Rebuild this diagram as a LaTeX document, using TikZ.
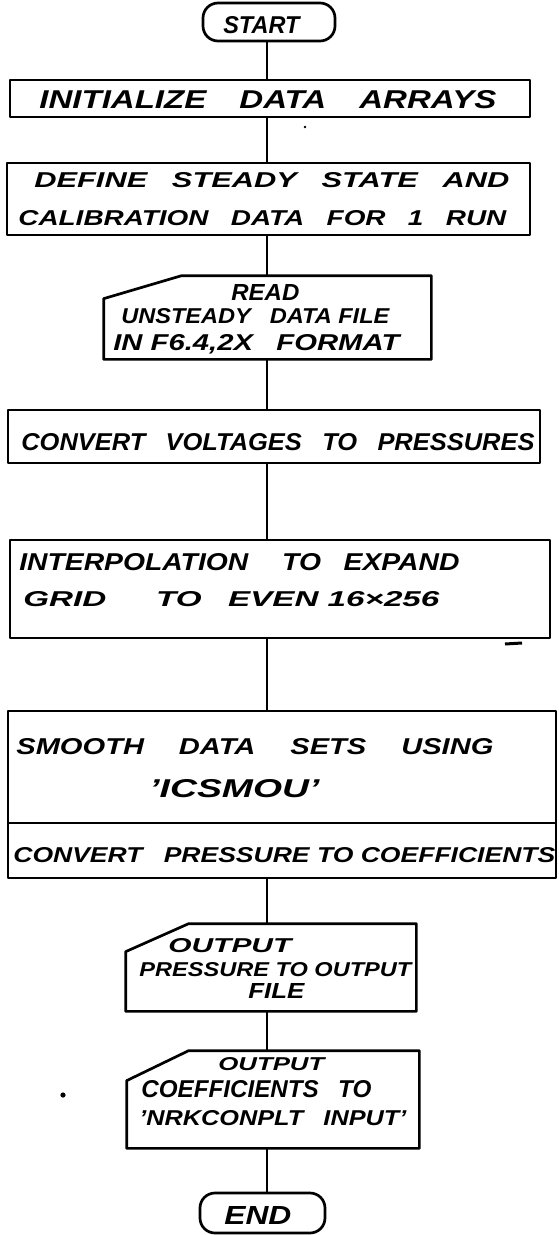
\documentclass[tikz,border=0pt]{standalone}
\usepackage{fontspec}
\setmainfont{Liberation Sans}
\usepackage{graphicx}
\newcommand\handtxt[3]{\resizebox{#1pt}{#2pt}{#3}}
\newcommand\wg{\hspace{0.8em}}
\begin{document}
\begin{tikzpicture}[x=1pt,y=-1pt,
  line width=2.7pt, line join=round,
  box/.style={draw, rectangle, inner sep=0pt, line width=2.7pt},
  term/.style={draw, rectangle, rounded corners=15pt, inner sep=0pt, line width=2.7pt},
  card/.style={rectangle, inner sep=0pt},
  cardline/.style={draw, line width=2.7pt, line join=round},
  txt/.style={inner sep=0pt, anchor=base west, font=\bfseries\itshape},
  conn/.style={line width=2.7pt}]
\useasboundingbox (0,0) rectangle (558,1235);
\coordinate (col) at (267,0);

% ---- shapes ----
\node[term, minimum width=132pt, minimum height=38pt] (start) at (269,22) {};
\node[box, minimum width=520pt, minimum height=37pt] (init) at (270,98.5) {};
\node[box, minimum width=523pt, minimum height=72pt] (define) at (268.5,199) {};
\node[card, minimum width=325pt, minimum height=81pt] (read) at (267.5,317.5) {};
\draw[cardline] ([yshift=-23pt]read.north west) -- ([xshift=78pt]read.north west) -- (read.north east) -- (read.south east) -- (read.south west) -- cycle;
\node[box, minimum width=532pt, minimum height=53pt] (convv) at (274,436.5) {};
\node[box, minimum width=540pt, minimum height=98pt] (interp) at (280,589) {};
\node[box, minimum width=548pt, minimum height=112pt] (smooth) at (282,767) {};
\node[box, minimum width=548pt, minimum height=55pt] (convp) at (282,850.5) {};
\node[card, minimum width=288pt, minimum height=85pt] (out1) at (271,967.5) {};
\draw[cardline] ([yshift=-28pt]out1.north west) -- ([xshift=63pt]out1.north west) -- (out1.north east) -- (out1.south east) -- (out1.south west) -- cycle;
\node[card, minimum width=290pt, minimum height=95pt] (out2) at (273,1099.5) {};
\draw[cardline] ([yshift=-30pt]out2.north west) -- ([xshift=62pt]out2.north west) -- (out2.north east) -- (out2.south east) -- (out2.south west) -- cycle;
\node[term, minimum width=125pt, minimum height=40pt] (end) at (262.5,1213) {};

% ---- connectors ----
\draw[conn] (start.south -| col) -- (init.north -| col);
\draw[conn] (init.south -| col) -- (define.north -| col);
\draw[conn] (define.south -| col) -- (read.north -| col);
\draw[conn] (read.south -| col) -- (convv.north -| col);
\draw[conn] (convv.south -| col) -- (interp.north -| col);
\draw[conn] (interp.south -| col) -- (smooth.north -| col);
\draw[conn] (convp.south -| col) -- (out1.north -| col);
\draw[conn] (out1.south -| col) -- (out2.north -| col);
\draw[conn] (out2.south -| col) -- (end.north -| col);

% ---- texts ----
\node[txt] (tstart) at (222,33) {\handtxt{76}{17}{START}};
\node[txt] (tinit) at (38,108) {\handtxt{457}{18}{INITIALIZE\hspace{1em}DATA\hspace{1em}ARRAYS}};
\node[txt] (tdef1) at (33,187) {\handtxt{475}{15}{DEFINE\wg STEADY\wg STATE\wg AND}};
\node[txt] (tdef2) at (17,225) {\handtxt{488}{15}{CALIBRATION\wg DATA\wg FOR\wg 1\wg RUN}};
\node[txt] (tread1) at (230,300) {\handtxt{68}{16}{READ}};
\node[txt] (tread2) at (120,323) {\handtxt{268}{15}{UNSTEADY\wg DATA FILE}};
\node[txt] (tread3) at (112,350) {\handtxt{286}{16}{IN F6.4,2X\wg FORMAT}};
\node[txt] (tconvv) at (20,450) {\handtxt{513}{17}{CONVERT\wg VOLTAGES\wg TO\wg PRESSURES}};
\node[txt] (tint1) at (18,570) {\handtxt{440}{17}{INTERPOLATION\hspace{1.2em}TO\wg EXPAND}};
\node[txt] (tint2) at (22,606) {\handtxt{416}{15}{GRID\hspace{1.5em}TO\wg EVEN 16×256}};
\node[txt] (tsm1) at (15,754) {\handtxt{477}{16}{SMOOTH\hspace{1.2em}DATA\hspace{1.2em}SETS\hspace{1.2em}USING}};
\node[txt] (tsm2) at (148,797) {\handtxt{170}{18}{'ICSMOU'}};
\node[txt] (tconvp) at (12,862) {\handtxt{542}{15}{CONVERT\wg PRESSURE TO COEFFICIENTS}};
\node[txt] (to1a) at (167,952) {\handtxt{123}{14}{OUTPUT}};
\node[txt] (to1b) at (138,976) {\handtxt{272}{14}{PRESSURE TO OUTPUT}};
\node[txt] (to1c) at (247,998) {\handtxt{56}{15}{FILE}};
\node[txt] (to2a) at (217,1070) {\handtxt{106}{13}{OUTPUT}};
\node[txt] (to2b) at (140,1097) {\handtxt{230}{17}{COEFFICIENTS\wg TO}};
\node[txt] (to2c) at (138,1125) {\handtxt{267}{15}{'NRKCONPLT\wg INPUT'}};
\node[txt] (tend) at (223,1224) {\handtxt{67}{18}{END}};

% ---- specks shown in the scan ----
\fill (63,1095) circle (2.6pt);
\fill (305,127) circle (1.4pt);
\draw[line width=3pt] (505,644) -- (522,643);
\end{tikzpicture}
\end{document}
